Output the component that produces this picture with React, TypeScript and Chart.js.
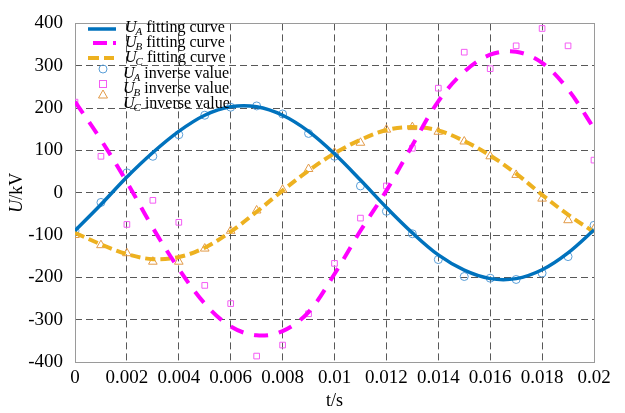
import React, { useEffect, useRef } from "react";
import { Chart, registerables } from "chart.js";

Chart.register(...registerables);

const tValues = [0, 0.001, 0.002, 0.003, 0.004, 0.005, 0.006, 0.007, 0.008, 0.009, 0.01, 0.011, 0.012, 0.013, 0.014, 0.015, 0.016, 0.017, 0.018, 0.019, 0.02];
const uaFit = [-90, -28, 37, 95, 145, 183, 203, 203, 183, 145, 92, 30, -35, -95, -147, -183, -203, -203, -182, -142, -88];
const ubFit = [215, 125, 25, -83, -180, -262, -316, -337, -327, -282, -192, -90, 5, 112, 216, 286, 326, 333, 307, 244, 152];
const ucFit = [-95, -122, -145, -157, -152, -130, -92, -45, 5, 52, 93, 125, 148, 155, 147, 122, 88, 45, -5, -52, -93];
const uaInv = [-90, -23, 47, 86, 137, 183, 202, 205, 186, 140, 86, 16, -44, -97, -158, -198, -202, -205, -190, -151, -77];
const ubInv = [214, 86, -75, -18, -70, -219, -262, -386, -360, -286, -167, -60, 16, 105, 247, 332, 293, 347, 388, 347, 77];
const ucInv = [-100, -124, -143, -163, -163, -132, -90, -42, 7, 56, 95, 118, 149, 155, 144, 121, 86, 42, -14, -65, -86];

const xMin = 0;
const xMax = 0.02;
const xStep = 0.002;
const yMin = -400;
const yMax = 400;
const yStep = 100;

const legendLabels = [
  { sub: "A", text: "fitting curve" },
  { sub: "B", text: "fitting curve" },
  { sub: "C", text: "fitting curve" },
  { sub: "A", text: "inverse value" },
  { sub: "B", text: "inverse value" },
  { sub: "C", text: "inverse value" },
];

const BLUE = "#0072BD";
const MAGENTA = "#FF00FF";
const ORANGE = "#EDB120";
const BLUE_M = "#5A9FD8";
const MAGENTA_M = "#F45CF4";
const ORANGE_M = "#E29A48";
const SERIF = "'Liberation Serif', 'Times New Roman', serif";

const pts = (ys: number[]) => tValues.map((t, i) => ({ x: t, y: ys[i] }));

const decorPlugin = {
  id: "decor",
  beforeDatasetsDraw(chart: any) {
    const { ctx, chartArea } = chart;
    ctx.save();
    ctx.strokeStyle = "#9a9a9a";
    ctx.lineWidth = 1;
    ctx.setLineDash([]);
    ctx.strokeRect(
      Math.round(chartArea.left) + 0.5,
      Math.round(chartArea.top) + 0.5,
      Math.round(chartArea.right - chartArea.left),
      Math.round(chartArea.bottom - chartArea.top)
    );
    ctx.restore();
  },
  afterDraw(chart: any) {
    const { ctx, chartArea } = chart;
    ctx.save();
    // Axis titles
    ctx.fillStyle = "#000";
    ctx.textBaseline = "middle";
    ctx.font = `18px ${SERIF}`;
    ctx.textAlign = "center";
    ctx.fillText("t/s", (chartArea.left + chartArea.right) / 2, 401);

    ctx.save();
    ctx.translate(17, (chartArea.top + chartArea.bottom) / 2);
    ctx.rotate(-Math.PI / 2);
    ctx.font = `italic 18px ${SERIF}`;
    const uW = ctx.measureText("U").width;
    ctx.font = `18px ${SERIF}`;
    const restW = ctx.measureText("/kV").width;
    const total = uW + restW;
    ctx.textAlign = "left";
    ctx.font = `italic 18px ${SERIF}`;
    ctx.fillText("U", -total / 2, 0);
    ctx.font = `18px ${SERIF}`;
    ctx.fillText("/kV", -total / 2 + uW, 0);
    ctx.restore();

    // Legend
    const rows = [27, 42, 57, 73, 88, 103];
    const sampleX0 = 88;
    const sampleX1 = 116;
    const markX = 103;
    ctx.lineCap = "butt";
    // line samples
    ctx.strokeStyle = BLUE;
    ctx.lineWidth = 3.5;
    ctx.setLineDash([]);
    ctx.beginPath();
    ctx.moveTo(sampleX0, rows[0] + 2);
    ctx.lineTo(sampleX1, rows[0] + 2);
    ctx.stroke();

    ctx.strokeStyle = MAGENTA;
    ctx.lineWidth = 4;
    ctx.setLineDash([14, 6]);
    ctx.lineDashOffset = -5;
    ctx.beginPath();
    ctx.moveTo(sampleX0, rows[1] + 1);
    ctx.lineTo(sampleX1, rows[1] + 1);
    ctx.stroke();

    ctx.strokeStyle = ORANGE;
    ctx.lineWidth = 4;
    ctx.setLineDash([11, 5]);
    ctx.lineDashOffset = 0;
    ctx.beginPath();
    ctx.moveTo(sampleX0, rows[2] + 1);
    ctx.lineTo(sampleX1 - 2, rows[2] + 1);
    ctx.stroke();
    ctx.setLineDash([]);

    // markers
    ctx.lineWidth = 1;
    ctx.strokeStyle = BLUE_M;
    ctx.beginPath();
    ctx.arc(markX, rows[3] - 4, 4, 0, Math.PI * 2);
    ctx.stroke();
    ctx.strokeStyle = MAGENTA_M;
    ctx.strokeRect(markX - 3.5, rows[4] - 7.5, 7, 7);
    ctx.strokeStyle = ORANGE_M;
    ctx.beginPath();
    ctx.moveTo(markX, rows[5] - 13);
    ctx.lineTo(markX + 4.5, rows[5] - 5);
    ctx.lineTo(markX - 4.5, rows[5] - 5);
    ctx.closePath();
    ctx.stroke();

    // texts
    ctx.fillStyle = "#000";
    ctx.textAlign = "left";
    ctx.textBaseline = "alphabetic";
    legendLabels.forEach((lab, i) => {
      const base = rows[i] + 5;
      const x0 = i < 3 ? 125 : 123;
      ctx.font = `italic 16px ${SERIF}`;
      ctx.fillText("U", x0, base);
      const uW2 = ctx.measureText("U").width;
      ctx.font = `italic 11px ${SERIF}`;
      ctx.fillText(lab.sub, x0 + uW2 - 1, base + 3);
      const sW = ctx.measureText(lab.sub).width;
      ctx.font = `16px ${SERIF}`;
      ctx.fillText(lab.text, x0 + uW2 + sW + 3, base);
    });
    ctx.restore();
  },
};

export default function App() {
  const canvasRef = useRef<HTMLCanvasElement | null>(null);

  useEffect(() => {
    if (!canvasRef.current) return;
    const gridColor = "rgba(70,70,70,0.9)";
    const chart = new Chart(canvasRef.current, {
      type: "line",
      data: {
        datasets: [
          {
            label: "UA fitting curve",
            data: pts(uaFit),
            borderColor: BLUE,
            borderWidth: 3.5,
            pointRadius: 0,
            tension: 0.35,
            fill: false,
          },
          {
            label: "UB fitting curve",
            data: pts(ubFit),
            borderColor: MAGENTA,
            borderWidth: 4,
            borderDash: [14, 11],
            pointRadius: 0,
            tension: 0.35,
            fill: false,
          },
          {
            label: "UC fitting curve",
            data: pts(ucFit),
            borderColor: ORANGE,
            borderWidth: 4,
            borderDash: [10, 5],
            pointRadius: 0,
            tension: 0.35,
            fill: false,
          },
          {
            label: "UA inverse value",
            data: pts(uaInv),
            showLine: false,
            pointStyle: "circle",
            pointRadius: 4,
            pointBorderWidth: 1,
            pointBorderColor: BLUE_M,
            pointBackgroundColor: "rgba(0,0,0,0)",
            borderColor: BLUE_M,
          },
          {
            label: "UB inverse value",
            data: pts(ubInv),
            showLine: false,
            pointStyle: "rect",
            pointRadius: 4,
            pointBorderWidth: 1,
            pointBorderColor: MAGENTA_M,
            pointBackgroundColor: "rgba(0,0,0,0)",
            borderColor: MAGENTA_M,
          },
          {
            label: "UC inverse value",
            data: pts(ucInv),
            showLine: false,
            pointStyle: "triangle",
            pointRadius: 5,
            pointBorderWidth: 1,
            pointBorderColor: ORANGE_M,
            pointBackgroundColor: "rgba(0,0,0,0)",
            borderColor: ORANGE_M,
          },
        ],
      },
      options: {
        responsive: false,
        animation: false,
        devicePixelRatio: 1,
        layout: { padding: { left: 0, top: 18, right: 31, bottom: 0 } },
        plugins: {
          legend: { display: false },
          tooltip: { enabled: false },
        },
        scales: {
          x: {
            type: "linear",
            min: xMin,
            max: xMax,
            afterFit: (scale: any) => {
              scale.height = 51;
            },
            ticks: {
              stepSize: xStep,
              autoSkip: false,
              maxRotation: 0,
              padding: 5,
              color: "#000",
              font: { family: SERIF, size: 19 },
              callback: (v: any) => {
                const n = Number(v);
                return n === 0 ? "0" : String(Number(n.toFixed(3)));
              },
            },
            grid: {
              color: gridColor,
              lineWidth: 1,
              drawTicks: false,
            },
            border: { display: false, dash: [7, 4] },
          },
          y: {
            type: "linear",
            min: yMin,
            max: yMax,
            afterFit: (scale: any) => {
              scale.width = 75;
            },
            ticks: {
              stepSize: yStep,
              padding: 12,
              color: "#000",
              font: { family: SERIF, size: 19 },
              callback: (v: any) => String(v),
            },
            grid: {
              color: gridColor,
              lineWidth: 1,
              drawTicks: false,
            },
            border: { display: false, dash: [7, 4] },
          },
        },
      },
      plugins: [decorPlugin],
    } as any);
    return () => chart.destroy();
  }, []);

  return (
    <div style={{ position: "fixed", left: 0, top: 0, width: 625, height: 413, background: "#fff" }}>
      <canvas ref={canvasRef} width={625} height={413} style={{ display: "block" }} />
    </div>
  );
}
